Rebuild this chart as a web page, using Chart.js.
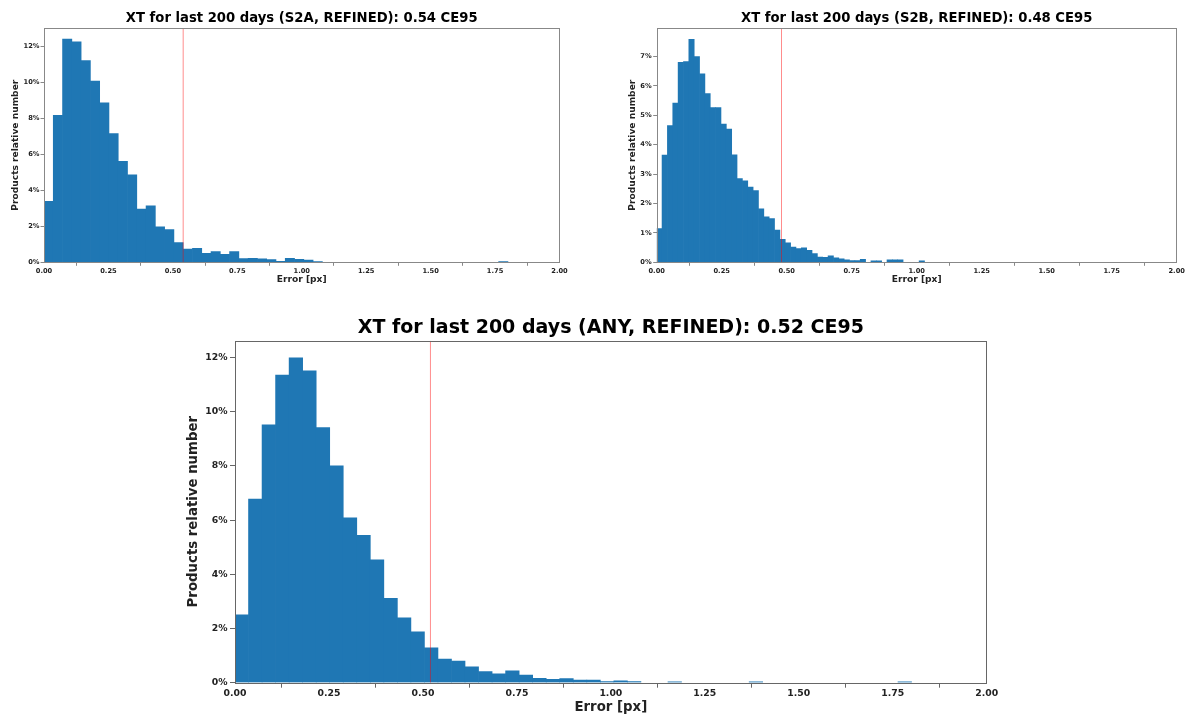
<!DOCTYPE html>
<html>
<head>
<meta charset="utf-8">
<script src="https://cdn.jsdelivr.net/npm/chart.js@4.4.1/dist/chart.umd.min.js"></script>
<style>
  html, body { margin: 0; padding: 0; background: #fff; }
  body { width: 1189px; height: 718px; position: relative; overflow: hidden; }
  canvas { position: absolute; }
</style>
</head>
<body>
<canvas id="c1" width="590" height="300" style="left:0px;top:0px;"></canvas>
<canvas id="c2" width="589" height="300" style="left:600px;top:0px;"></canvas>
<canvas id="c3" width="860" height="418" style="left:160px;top:300px;"></canvas>
<script>
// ---- Data (percent of products per histogram bin, 50 bins each) ----
const xTickLabels = ['0.00', '0.25', '0.50', '0.75', '1.00', '1.25', '1.50', '1.75', '2.00'];

const s2aTitle = 'XT for last 200 days (S2A, REFINED): 0.54 CE95';
const s2aCE95 = 0.54;
const s2aBinWidth = 0.036;
const s2aValues = [3.39, 8.17, 12.41, 12.26, 11.22, 10.08, 8.87, 7.16, 5.62, 4.86,
                   2.96, 3.14, 1.97, 1.82, 1.10, 0.73, 0.78, 0.50, 0.60, 0.45,
                   0.60, 0.20, 0.22, 0.19, 0.15, 0.06, 0.22, 0.17, 0.13, 0.04,
                   0, 0, 0, 0, 0, 0, 0, 0, 0, 0,
                   0, 0, 0, 0, 0, 0, 0, 0, 0, 0.04];
const s2aYTicks = [0, 2, 4, 6, 8, 10, 12];

const s2bTitle = 'XT for last 200 days (S2B, REFINED): 0.48 CE95';
const s2bCE95 = 0.48;
const s2bBinWidth = 0.0206;
const s2bValues = [1.15, 3.65, 4.65, 5.42, 6.80, 6.83, 7.59, 7.00, 6.41, 5.74,
                   5.26, 5.26, 4.70, 4.53, 3.66, 2.85, 2.77, 2.56, 2.44, 1.82,
                   1.55, 1.49, 1.10, 0.78, 0.66, 0.52, 0.47, 0.49, 0.41, 0.30,
                   0.18, 0.17, 0.22, 0.15, 0.12, 0.08, 0.06, 0.06, 0.10, 0,
                   0.05, 0.05, 0, 0.08, 0.08, 0.08, 0, 0, 0, 0.05];
const s2bYTicks = [0, 1, 2, 3, 4, 5, 6, 7];

const anyTitle = 'XT for last 200 days (ANY, REFINED): 0.52 CE95';
const anyCE95 = 0.52;
const anyBinWidth = 0.036;
const anyValues = [2.50, 6.78, 9.52, 11.35, 11.99, 11.51, 9.41, 8.00, 6.08, 5.44,
                   4.53, 3.11, 2.39, 1.88, 1.29, 0.87, 0.80, 0.59, 0.41, 0.33,
                   0.44, 0.28, 0.16, 0.12, 0.15, 0.10, 0.10, 0.04, 0.07, 0.04,
                   0, 0, 0.03, 0, 0, 0, 0, 0, 0.03, 0,
                   0, 0, 0, 0, 0, 0, 0, 0, 0, 0.03];
const anyYTicks = [0, 2, 4, 6, 8, 10, 12];

const xLabel = 'Error [px]';
const yLabel = 'Products relative number';

// ---- Drawing ----
const FONT = "'DejaVu Sans', 'Liberation Sans', sans-serif";

const framePlugin = {
  id: 'frame',
  afterDatasetsDraw(chart, args, opts) {
    const a = chart.chartArea, ctx = chart.ctx;
    ctx.save();
    ctx.strokeStyle = opts.color || '#777';
    ctx.lineWidth = opts.width || 1;
    ctx.strokeRect(Math.round(a.left) + 0.5, Math.round(a.top) + 0.5,
                   Math.round(a.right - a.left) - 1, Math.round(a.bottom - a.top));
    ctx.restore();
  }
};

function makeChart(id, s) {
  // empty bins are simply not drawn
  const barData = s.values
    .map((v, i) => ({ x: (i + 0.5) * s.binWidth, y: v }))
    .filter(p => p.y > 0);
  return new Chart(document.getElementById(id), {
    type: 'bar',
    data: {
      datasets: [
        {
          type: 'bar',
          data: barData,
          backgroundColor: '#1f77b4',
          borderWidth: 0,
          barPercentage: 1.0,
          categoryPercentage: 1.0,
          order: 2
        },
        {
          type: 'line',
          data: [{ x: s.ce95, y: 0 }, { x: s.ce95, y: s.yMax }],
          borderColor: 'rgba(255,0,0,0.45)',
          borderWidth: 1,
          pointRadius: 0,
          fill: false,
          order: 1
        }
      ]
    },
    options: {
      responsive: false,
      animation: false,
      events: [],
      layout: { padding: { left: 0, right: s.padRight, top: 0, bottom: 0 } },
      plugins: {
        legend: { display: false },
        tooltip: { enabled: false },
        frame: { color: s.frameColor, width: 1 },
        title: {
          display: true,
          fullSize: false,
          text: s.title,
          color: '#000',
          font: { family: FONT, size: s.titleSize, weight: 'bold', lineHeight: 1.2 },
          padding: { top: s.titlePadTop, bottom: s.titlePadBottom }
        }
      },
      scales: {
        x: {
          type: 'linear',
          min: 0,
          max: 2,
          offset: false,
          afterBuildTicks: (sc) => { sc.ticks = xTickLabels.map(t => ({ value: parseFloat(t) })); },
          afterFit: (sc) => { sc.height = s.xAxisHeight; },
          ticks: {
            autoSkip: false,
            maxRotation: 0,
            color: '#222',
            padding: s.xTickPad,
            font: { family: FONT, size: s.tickSize, weight: 'bold' },
            callback: (v) => xTickLabels.find(t => parseFloat(t) === v)
          },
          grid: { drawOnChartArea: false, drawTicks: true, tickLength: s.tickLen, color: s.frameColor },
          border: { display: false },
          title: {
            display: true,
            text: xLabel,
            color: '#222',
            font: { family: FONT, size: s.labelSize, weight: 'bold', lineHeight: 1.2 },
            padding: { top: 0, bottom: s.xTitlePadBottom }
          }
        },
        y: {
          min: 0,
          max: s.yMax,
          afterBuildTicks: (sc) => { sc.ticks = s.yTicks.map(v => ({ value: v })); },
          afterFit: (sc) => { sc.width = s.yAxisWidth; },
          ticks: {
            color: '#222',
            padding: s.yTickPad,
            font: { family: FONT, size: s.tickSize, weight: 'bold' },
            callback: (v) => v + '%'
          },
          grid: { drawOnChartArea: false, drawTicks: true, tickLength: s.tickLen, color: s.frameColor },
          border: { display: false },
          title: {
            display: true,
            text: yLabel,
            color: '#222',
            font: { family: FONT, size: s.labelSize, weight: 'bold', lineHeight: 1.2 },
            padding: { top: s.yTitlePadTop, bottom: 0 }
          }
        }
      }
    },
    plugins: [framePlugin]
  });
}

makeChart('c1', {
  title: s2aTitle, values: s2aValues, binWidth: s2aBinWidth, ce95: s2aCE95,
  yMax: 13.03, yTicks: s2aYTicks,
  padRight: 30.5, yAxisWidth: 44, xAxisHeight: 37.7,
  titleSize: 13.2, titlePadTop: 11, titlePadBottom: 1.2,
  tickSize: 6.7, labelSize: 9.1, tickLen: 3.5, xTickPad: 1, yTickPad: 1,
  xTitlePadBottom: 14.5, yTitlePadTop: 9.8, frameColor: '#888'
});

makeChart('c2', {
  title: s2bTitle, values: s2bValues, binWidth: s2bBinWidth, ce95: s2bCE95,
  yMax: 7.97, yTicks: s2bYTicks,
  padRight: 12.3, yAxisWidth: 56.7, xAxisHeight: 37.7,
  titleSize: 13.2, titlePadTop: 11, titlePadBottom: 1.2,
  tickSize: 6.7, labelSize: 9.1, tickLen: 3.5, xTickPad: 1, yTickPad: 1.5,
  xTitlePadBottom: 14.5, yTitlePadTop: 26.8, frameColor: '#888'
});

makeChart('c3', {
  title: anyTitle, values: anyValues, binWidth: anyBinWidth, ce95: anyCE95,
  yMax: 12.62, yTicks: anyYTicks,
  padRight: 33.3, yAxisWidth: 75, xAxisHeight: 35.3,
  titleSize: 19, titlePadTop: 16.6, titlePadBottom: 1.3,
  tickSize: 9.3, labelSize: 13.3, tickLen: 5, xTickPad: 0.5, yTickPad: 2.5,
  xTitlePadBottom: 2, yTitlePadTop: 26, frameColor: '#666'
});
</script>
</body>
</html>
